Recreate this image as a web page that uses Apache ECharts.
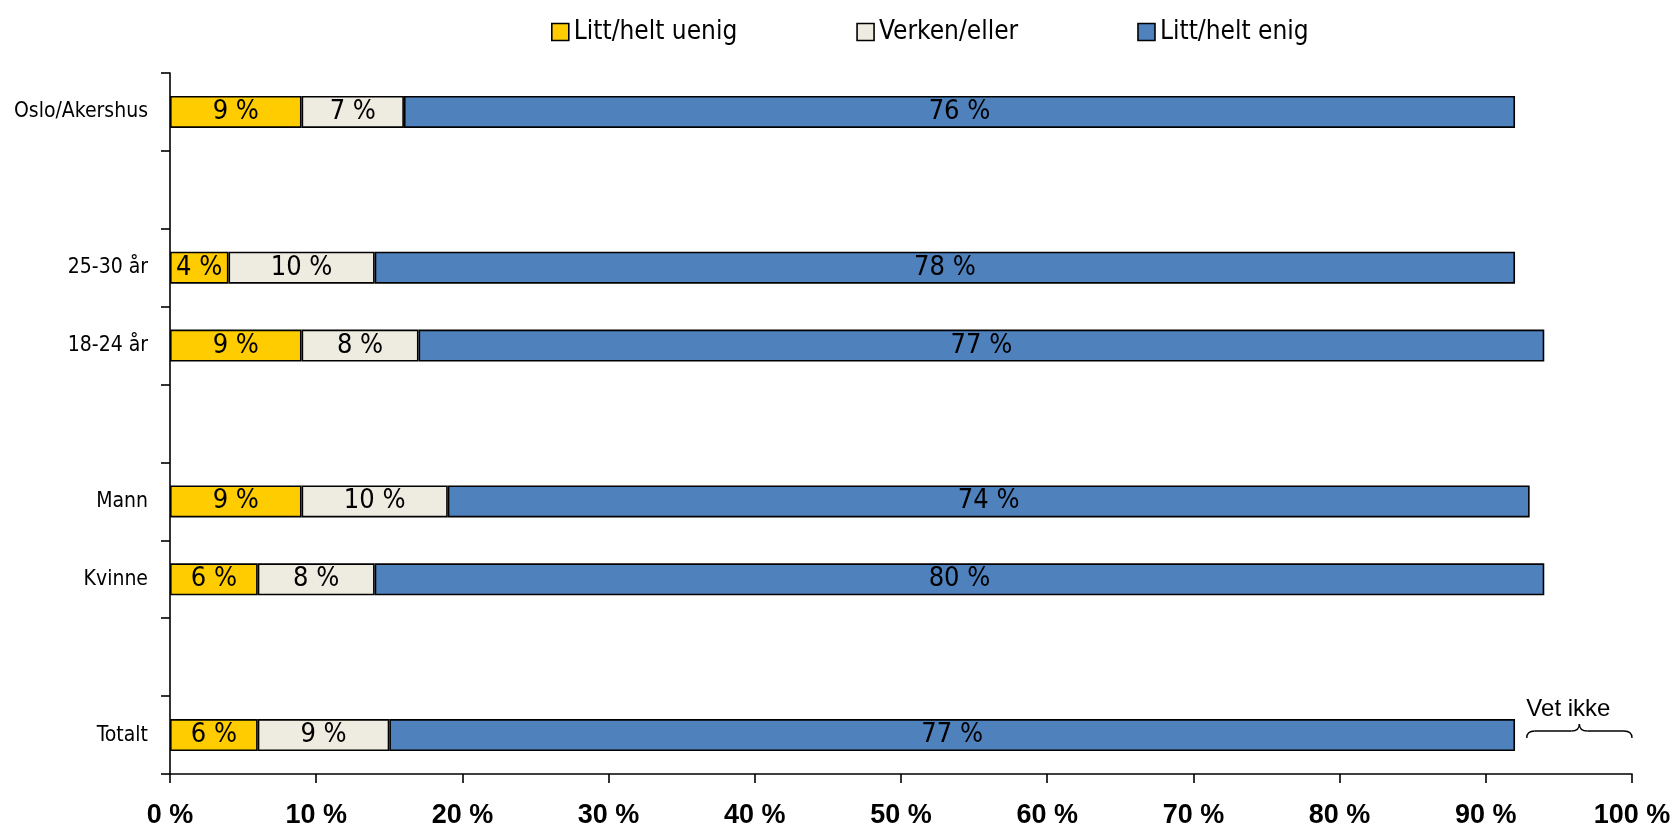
<!DOCTYPE html>
<html><head><meta charset="utf-8">
<script src="https://cdn.jsdelivr.net/npm/echarts@6/dist/echarts.min.js"></script>
<style>html,body{margin:0;padding:0;background:#fff}#c{width:1679px;height:829px}</style>
</head><body><div id="c"></div>
<script>
const categories = ['Totalt', '', 'Kvinne', 'Mann', '', '18-24 år', '25-30 år', '', 'Oslo/Akershus'];
const uenig = [6, '-', 6, 9, '-', 9, 4, '-', 9];
const verken = [9, '-', 8, 10, '-', 8, 10, '-', 7];
const enig = [77, '-', 80, 74, '-', 77, 78, '-', 76];
const seriesNames = ['Litt/helt uenig', 'Verken/eller', 'Litt/helt enig'];
const xTicks = [0, 10, 20, 30, 40, 50, 60, 70, 80, 90, 100];
const vetIkke = {label: 'Vet ikke', category: 'Totalt', from: 92.8, to: 100};

const NARROW = '"Liberation Sans Narrow", "Arial Narrow", "DejaVu Sans Condensed", sans-serif';
const colors = ['#FFCC00', '#EEECE1', '#4F81BD'];
const chart = echarts.init(document.getElementById('c'), null, {renderer: 'canvas'});
const mk = (name, data, i) => ({
  name, type: 'bar', stack: 'a', data, barWidth: 32,
  itemStyle: {color: colors[i], borderColor: '#000', borderWidth: 1.6},
  label: {show: true, position: 'inside', formatter: p => p.value + ' %', color: '#000',
    fontFamily: NARROW, fontSize: 27},
  emphasis: {disabled: true}
});
chart.setOption({
  animation: false,
  legend: {
    top: 14, left: 546, itemGap: 119, itemWidth: 17, itemHeight: 17,
    icon: 'rect',
    textStyle: {fontFamily: NARROW, fontSize: 26, color: '#000'},
    itemStyle: {borderColor: '#000', borderWidth: 1.6},
    data: seriesNames
  },
  grid: {left: 170, right: 47, top: 73, bottom: 54, containLabel: false},
  xAxis: {
    type: 'value', min: 0, max: 100, interval: 10,
    axisLine: {show: true, lineStyle: {color: '#000', width: 1.6}},
    axisTick: {show: true, length: 9, lineStyle: {color: '#000', width: 1.6}},
    splitLine: {show: false},
    axisLabel: {formatter: v => v + ' %', fontFamily: '"Liberation Sans", Arial, sans-serif', fontWeight: 'bold', fontSize: 27, color: '#000', margin: 28}
  },
  yAxis: {
    type: 'category', data: categories,
    axisLine: {show: true, lineStyle: {color: '#000', width: 1.6}},
    axisTick: {show: true, length: 9, lineStyle: {color: '#000', width: 1.6}},
    axisLabel: {fontFamily: NARROW, fontSize: 21, color: '#000', margin: 22}
  },
  series: [mk(seriesNames[0], uenig, 0), mk(seriesNames[1], verken, 1), mk(seriesNames[2], enig, 2)]
});
function drawBrace() {
  const a = chart.convertToPixel({gridIndex: 0}, [vetIkke.from, vetIkke.category]);
  const b = chart.convertToPixel({gridIndex: 0}, [vetIkke.to, vetIkke.category]);
  const x1 = a[0], x2 = b[0], m = (x1 + x2) / 2;
  const yEnd = a[1] + 3, yFlat = a[1] - 4, yTip = a[1] - 11, r = 8;
  const st = {stroke: '#000', lineWidth: 1.4, fill: null};
  const curve = (sx, sy, cx, cy, ex, ey) => ({type: 'bezierCurve', shape: {x1: sx, y1: sy, x2: ex, y2: ey, cpx1: cx, cpy1: cy}, style: st});
  const line = (sx, sy, ex, ey) => ({type: 'line', shape: {x1: sx, y1: sy, x2: ex, y2: ey}, style: st});
  chart.setOption({graphic: [
    curve(x1, yEnd, x1, yFlat, x1 + r, yFlat),
    line(x1 + r, yFlat, m - r, yFlat),
    curve(m - r, yFlat, m, yFlat, m, yTip),
    curve(m, yTip, m, yFlat, m + r, yFlat),
    line(m + r, yFlat, x2 - r, yFlat),
    curve(x2 - r, yFlat, x2, yFlat, x2, yEnd),
    {type: 'text', x: m - 11, y: yTip - 3, style: {text: vetIkke.label, fill: '#000', font: '24px "Liberation Sans", Arial, sans-serif', align: 'center', verticalAlign: 'bottom'}}
  ]});
}
drawBrace();
</script></body></html>
